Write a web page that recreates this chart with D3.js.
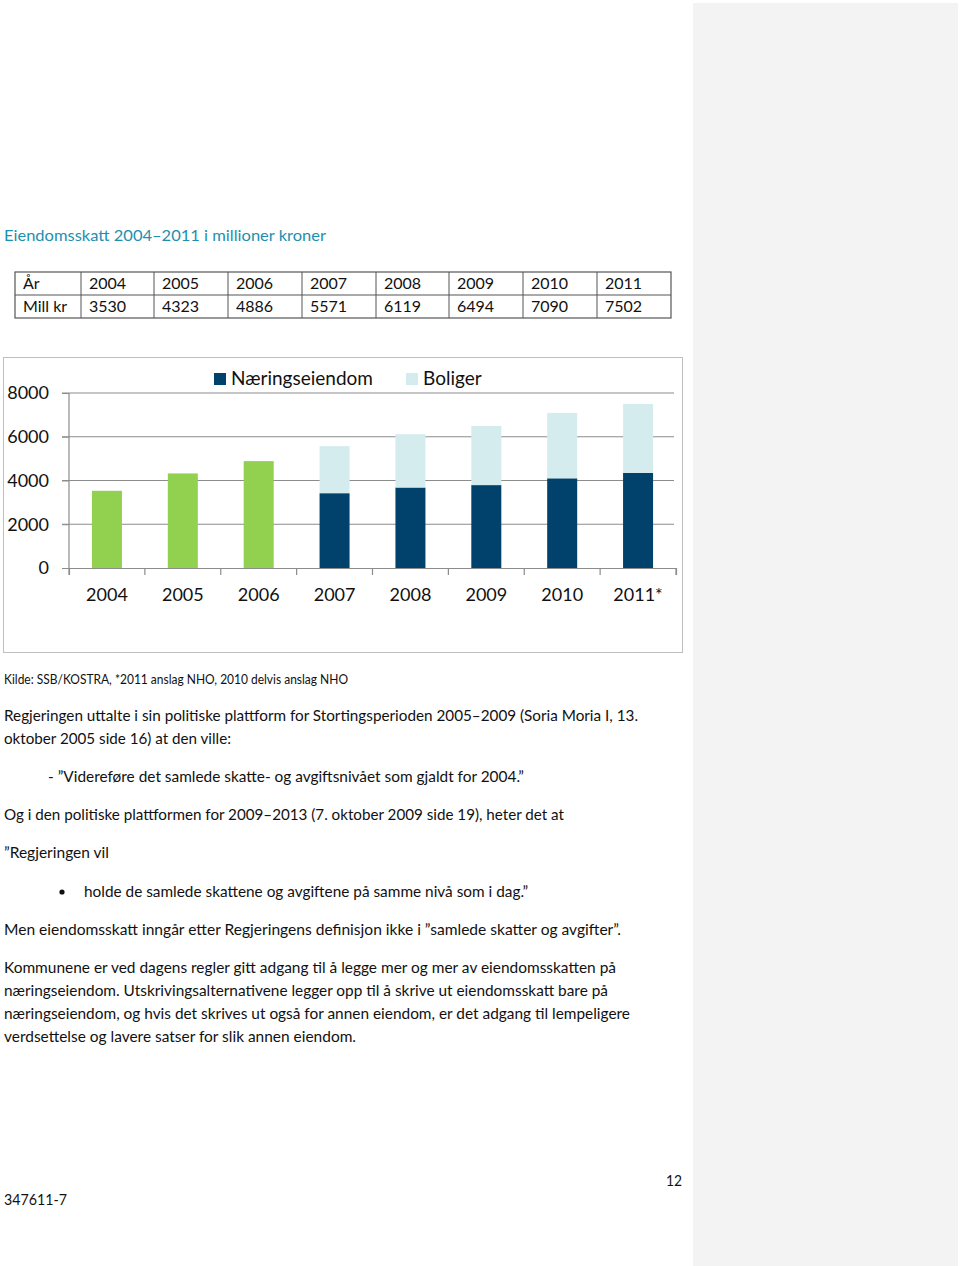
<!DOCTYPE html>
<html><head><meta charset="utf-8">
<script src="https://cdn.jsdelivr.net/npm/d3@7"></script>
<style>
html,body{margin:0;padding:0;background:#fff;}
svg{display:block;font-family:Lato,"Open Sans",sans-serif;}
</style></head>
<body>
<script>
// ---- data ----
const tableYears = ["2004","2005","2006","2007","2008","2009","2010","2011"];
const tableValues = [3530,4323,4886,5571,6119,6494,7090,7502];
const categories = ["2004","2005","2006","2007","2008","2009","2010","2011*"];
const totalOnly = [3530,4323,4886,null,null,null,null,null];      // green, no split
const naering = [null,null,null,3420,3680,3790,4100,4350];       // Næringseiendom
const boliger = [null,null,null,2151,2439,2704,2990,3152];       // Boliger
const yTicks = [0,2000,4000,6000,8000];
const seriesNames = ["Næringseiendom","Boliger"];
const colors = {green:"#92d050", dark:"#00426b", light:"#d5ecef"};

const W=960,H=1266;
const svg=d3.select("body").append("svg").attr("width",W).attr("height",H);

// right gray panel
svg.append("rect").attr("x",693).attr("y",3).attr("width",265).attr("height",H-3).attr("fill","#f3f3f3");

// title
svg.append("text").attr("x",4).attr("y",241).attr("fill","#1e8fae").attr("font-size",16)
  .attr("textLength",322).attr("lengthAdjust","spacingAndGlyphs")
  .text("Eiendomsskatt 2004–2011 i millioner kroner");

// table
const colX=[15,81,154,228,302,376,449,523,597,671];
const rowY=[272,295,318];
const tg=svg.append("g");
tg.append("rect").attr("x",15).attr("y",272).attr("width",656).attr("height",46).attr("fill","none").attr("stroke","#555").attr("stroke-width",1.2);
tg.append("line").attr("x1",15).attr("x2",671).attr("y1",295).attr("y2",295).attr("stroke","#555");
colX.slice(1,-1).forEach(x=>tg.append("line").attr("x1",x).attr("x2",x).attr("y1",272).attr("y2",318).attr("stroke","#555"));
const row1=["År",...tableYears], row2=["Mill kr",...tableValues.map(String)];
[row1,row2].forEach((row,ri)=>row.forEach((t,ci)=>{
  tg.append("text").attr("x",colX[ci]+8).attr("y",rowY[ri]+17).attr("font-size",16).attr("fill","#111").text(t);
}));

// chart frame
svg.append("rect").attr("x",3.5).attr("y",357.5).attr("width",679).attr("height",295).attr("fill","#fff").attr("stroke","#bfbfbf");

const x=d3.scaleBand().domain(categories).range([69,676]).paddingInner(0.6).paddingOuter(0.3);
const y=d3.scaleLinear().domain([0,8000]).range([568,393]);
const band=d3.scaleBand().domain(categories).range([69,676]);

// gridlines
svg.append("g").selectAll("line").data(yTicks.slice(1)).join("line")
  .attr("x1",62).attr("x2",674).attr("y1",d=>y(d)).attr("y2",d=>y(d))
  .attr("stroke","#8c8c8c").attr("stroke-width",1.2);

// y axis
const ya=svg.append("g").attr("transform","translate(69,0)")
  .call(d3.axisLeft(y).tickValues(yTicks).tickSize(7).tickFormat(d3.format("d")));
ya.select(".domain").remove();
ya.selectAll(".tick line").attr("stroke","#8c8c8c");
ya.selectAll(".tick text").attr("x",-20).attr("font-size",18).attr("fill","#111").attr("font-family","Lato,sans-serif");
svg.append("line").attr("x1",69).attr("x2",69).attr("y1",393).attr("y2",568).attr("stroke","#8c8c8c").attr("stroke-width",1.2);

// bars
const bw=30;
const cx=c=>band(c)+band.bandwidth()/2;
svg.append("g").selectAll("rect").data(categories.filter((c,i)=>totalOnly[i]!=null)).join("rect")
  .attr("x",c=>cx(c)-bw/2).attr("width",bw)
  .attr("y",c=>y(totalOnly[categories.indexOf(c)])).attr("height",c=>y(0)-y(totalOnly[categories.indexOf(c)]))
  .attr("fill",colors.green);
const stackData=categories.map((c,i)=>({c,n:naering[i],b:boliger[i]})).filter(d=>d.n!=null);
svg.append("g").selectAll("rect").data(stackData).join("rect")
  .attr("x",d=>cx(d.c)-bw/2).attr("width",bw).attr("y",d=>y(d.n)).attr("height",d=>y(0)-y(d.n)).attr("fill",colors.dark);
svg.append("g").selectAll("rect").data(stackData).join("rect")
  .attr("x",d=>cx(d.c)-bw/2).attr("width",bw).attr("y",d=>y(d.n+d.b)).attr("height",d=>y(d.n)-y(d.n+d.b)).attr("fill",colors.light);

// x axis
const xa=svg.append("g").attr("transform","translate(0,568)")
  .call(d3.axisBottom(band).tickSize(7).tickSizeOuter(7));
xa.select(".domain").attr("stroke","#8c8c8c").attr("stroke-width",1.2);
xa.selectAll(".tick line").attr("stroke","none");
xa.selectAll(".tick text").attr("y",20).attr("font-size",18).attr("fill","#111").attr("font-family","Lato,sans-serif");
svg.append("g").selectAll("line").data(d3.range(categories.length+1)).join("line")
  .attr("x1",i=>69+i*band.step()).attr("x2",i=>69+i*band.step()).attr("y1",568).attr("y2",575)
  .attr("stroke","#8c8c8c").attr("stroke-width",1.2);

// legend
const lg=svg.append("g");
const legX=[214,406], legC=[colors.dark,colors.light];
seriesNames.forEach((n,i)=>{
  lg.append("rect").attr("x",legX[i]).attr("y",373).attr("width",12).attr("height",12).attr("fill",legC[i]);
  lg.append("text").attr("x",legX[i]+17).attr("y",385).attr("font-size",19).attr("fill","#111").text(n);
});

// body text
const lines=[
  {t:"Kilde: SSB/KOSTRA, *2011 anslag NHO, 2010 delvis anslag NHO",x:4,y:684,s:12.5,w:344},
  {t:"Regjeringen uttalte i sin politiske plattform for Stortingsperioden 2005–2009 (Soria Moria I, 13.",x:4,y:721,s:15,w:634},
  {t:"oktober 2005 side 16) at den ville:",x:4,y:744,s:15,w:227},
  {t:"- ”Videreføre det samlede skatte- og avgiftsnivået som gjaldt for 2004.”",x:48,y:782,s:15,w:476},
  {t:"Og i den politiske plattformen for 2009–2013 (7. oktober 2009 side 19), heter det at",x:4,y:820,s:15,w:560},
  {t:"”Regjeringen vil",x:4,y:858,s:15,w:105},
  {t:"holde de samlede skattene og avgiftene på samme nivå som i dag.”",x:84,y:897,s:15,w:444},
  {t:"Men eiendomsskatt inngår etter Regjeringens definisjon ikke i ”samlede skatter og avgifter”.",x:4,y:935,s:15,w:617},
  {t:"Kommunene er ved dagens regler gitt adgang til å legge mer og mer av eiendomsskatten på",x:4,y:973,s:15,w:612},
  {t:"næringseiendom. Utskrivingsalternativene legger opp til å skrive ut eiendomsskatt bare på",x:4,y:996,s:15,w:604},
  {t:"næringseiendom, og hvis det skrives ut også for annen eiendom, er det adgang til lempeligere",x:4,y:1019,s:15,w:626},
  {t:"verdsettelse og lavere satser for slik annen eiendom.",x:4,y:1042,s:15,w:352},
  {t:"12",x:666,y:1186,s:15,w:16},
  {t:"347611-7",x:4,y:1205,s:15,w:63}
];
const bg=svg.append("g");
lines.forEach(l=>bg.append("text").attr("x",l.x).attr("y",l.y).attr("font-size",l.s).attr("fill","#111")
  .attr("textLength",l.w).attr("lengthAdjust","spacingAndGlyphs").text(l.t));
bg.append("circle").attr("cx",62).attr("cy",892).attr("r",2.6).attr("fill","#111");
</script>
</body></html>
